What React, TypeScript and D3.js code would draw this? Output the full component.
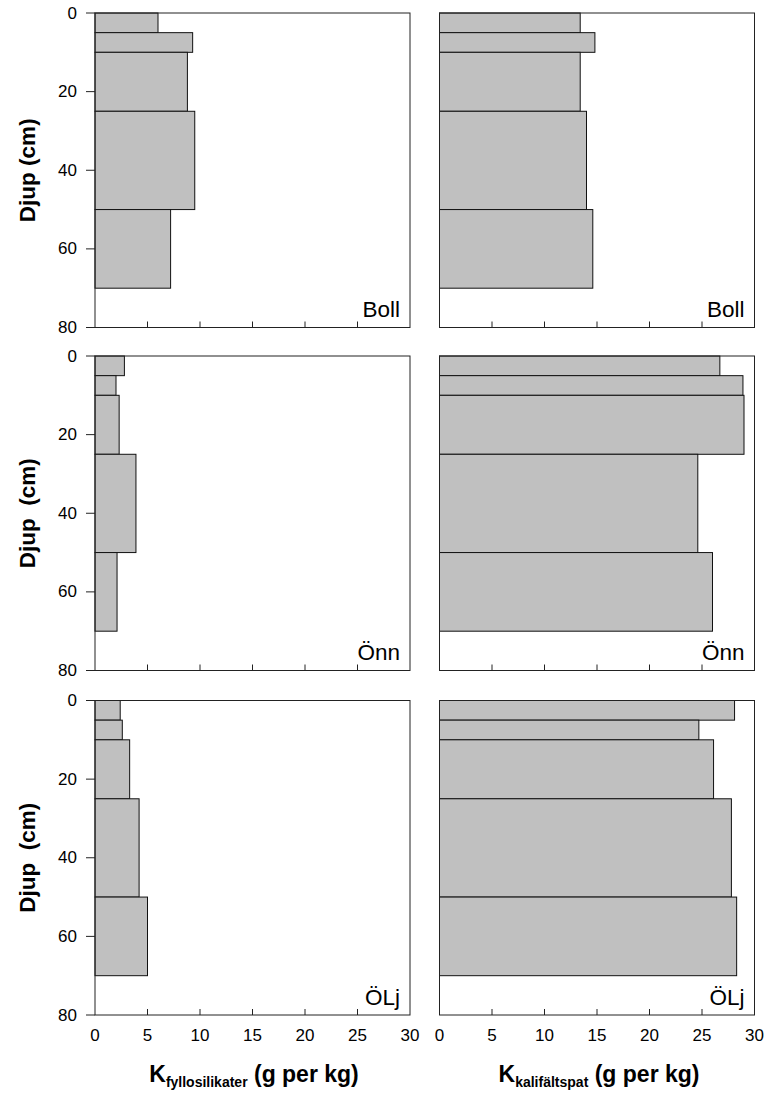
import React from "react";
import * as d3 from "d3";

const depthTop = [0, 5, 10, 25, 50];
const depthBottom = [5, 10, 25, 50, 70];
const sites = ["Boll", "Önn", "ÖLj"];
const yTitles = ["Djup (cm)", "Djup  (cm)", "Djup  (cm)"];
const fyllo = [
  [6.0, 9.3, 8.8, 9.5, 7.2],
  [2.8, 2.0, 2.3, 3.9, 2.1],
  [2.4, 2.6, 3.3, 4.2, 5.0],
];
const kali = [
  [13.4, 14.8, 13.4, 14.0, 14.6],
  [26.7, 28.9, 29.0, 24.6, 26.0],
  [28.1, 24.7, 26.1, 27.8, 28.3],
];
const xTicks = [0, 5, 10, 15, 20, 25, 30];
const yTicks = [0, 20, 40, 60, 80];

const FONT = "Liberation Sans, Arial, Helvetica, sans-serif";
const rowTops = [13, 356, 700.5];
const panelH = 314.5;
const colLefts = [95, 439.5];
const panelW = 315;

function Panel({ col, row, values }: { col: number; row: number; values: number[] }) {
  const x0 = colLefts[col];
  const top = rowTops[row];
  const x = d3.scaleLinear().domain([0, 30]).range([x0, x0 + panelW]);
  const y = d3.scaleLinear().domain([0, 80]).range([top, top + panelH]);
  const isBottom = row === 2;
  return (
    <g>
      {values.map((v, i) => (
        <rect
          key={i}
          x={x(0)}
          y={y(depthTop[i])}
          width={x(v) - x(0)}
          height={y(depthBottom[i]) - y(depthTop[i])}
          fill="#c0c0c0"
          stroke="#111"
          strokeWidth={1}
        />
      ))}
      <rect x={x(0)} y={y(0)} width={panelW} height={panelH} fill="none" stroke="#222" strokeWidth={1} />
      {xTicks.slice(1, -1).map((t) => (
        <line key={t} x1={x(t)} x2={x(t)} y1={y(80)} y2={y(80) - 6} stroke="#222" strokeWidth={1} />
      ))}
      {col === 0 &&
        yTicks.map((t) => (
          <g key={t}>
            <line x1={x(0) - 9} x2={x(0)} y1={y(t)} y2={y(t)} stroke="#222" strokeWidth={1} />
            <text x={x(0) - 18} y={y(t)} dominantBaseline="central" textAnchor="end" fontSize={17} fontFamily={FONT} fill="#000">
              {t}
            </text>
          </g>
        ))}
      {isBottom &&
        xTicks.map((t) => (
          <text key={t} x={x(t)} y={1041} textAnchor="middle" fontSize={17} fontFamily={FONT} fill="#000">
            {t}
          </text>
        ))}
      <text x={x(30) - 10} y={y(80) - 10.5} textAnchor="end" fontSize={22.5} fontFamily={FONT} fill="#000">
        {sites[row]}
      </text>
      {col === 0 && (
        <text
          transform={`translate(35,${(y(0) + y(80)) / 2}) rotate(-90)`}
          textAnchor="middle"
          fontSize={22.5}
          fontWeight="bold"
          fontFamily={FONT}
          fill="#000"
          style={{ whiteSpace: "pre" }}
        >
          {yTitles[row]}
        </text>
      )}
    </g>
  );
}

function XTitle({ cx, sub }: { cx: number; sub: string }) {
  return (
    <text x={cx} y={1081.5} textAnchor="middle" fontFamily={FONT} fontWeight="bold" fontSize={23} fill="#000">
      <tspan>K</tspan>
      <tspan fontSize={14} dy={5}>{sub}</tspan>
      <tspan dy={-5}>{" (g per kg)"}</tspan>
    </text>
  );
}

export default function App() {
  return (
    <svg
      width={768}
      height={1095}
      style={{ position: "absolute", left: 0, top: 0, background: "#fff" }}
    >
      <rect x={0} y={0} width={768} height={1095} fill="#fff" />
      {[0, 1, 2].map((row) => (
        <g key={row}>
          <Panel col={0} row={row} values={fyllo[row]} />
          <Panel col={1} row={row} values={kali[row]} />
        </g>
      ))}
      <XTitle cx={254} sub="fyllosilikater" />
      <XTitle cx={599} sub="kalifältspat" />
    </svg>
  );
}
